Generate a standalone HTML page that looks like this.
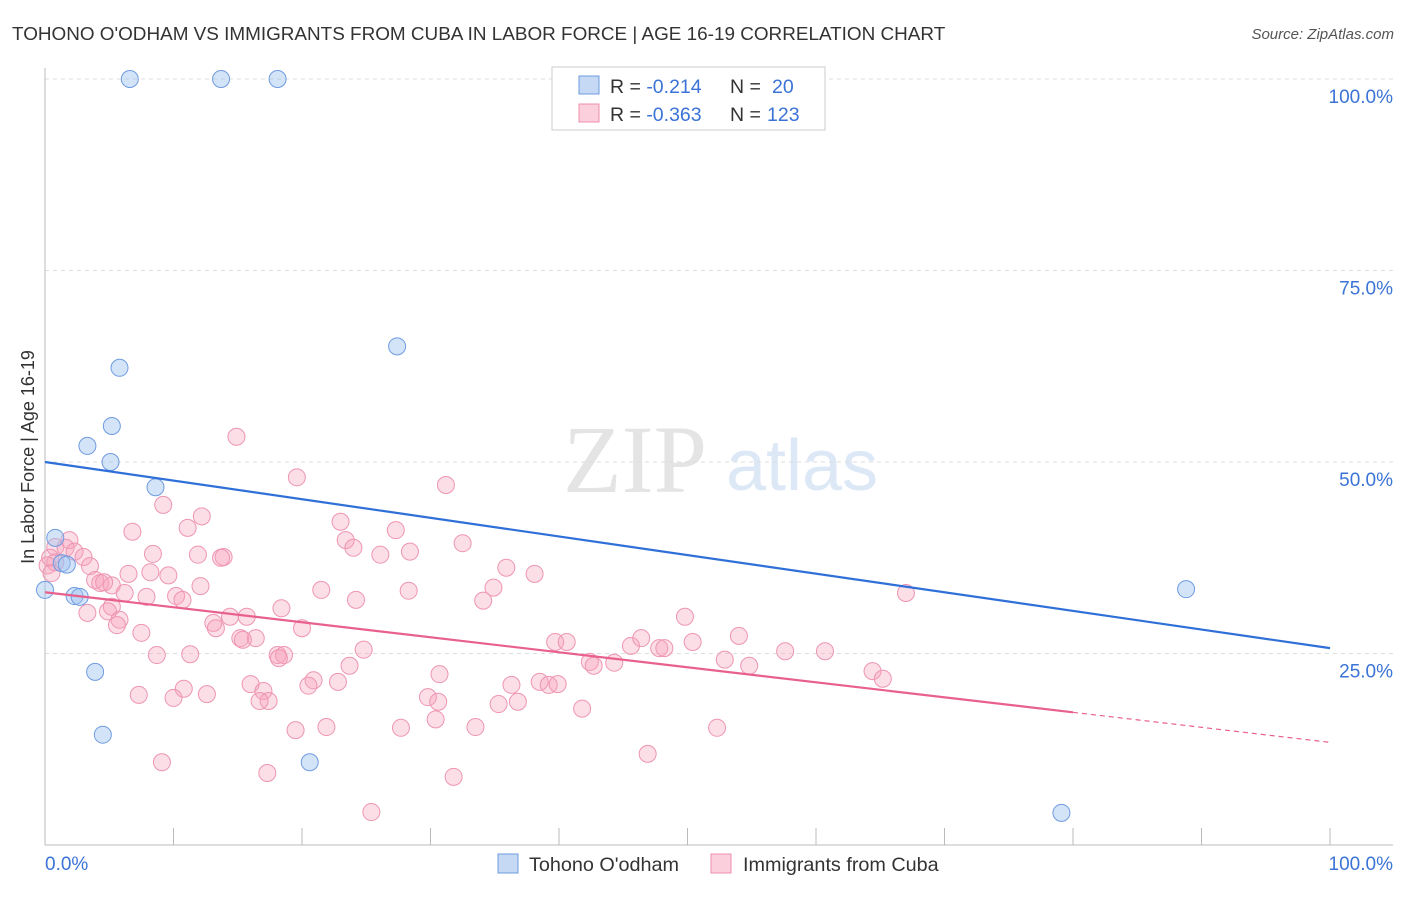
<!DOCTYPE html>
<html><head><meta charset="utf-8"><style>
body{margin:0;background:#fff;font-family:"Liberation Sans",sans-serif;}
svg text{font-family:"Liberation Sans",sans-serif;}
</style></head><body>
<svg id="chart" width="1406" height="892" xmlns="http://www.w3.org/2000/svg">
<text x="12" y="40" font-size="18.9" fill="#333">TOHONO O'ODHAM VS IMMIGRANTS FROM CUBA IN LABOR FORCE | AGE 16-19 CORRELATION CHART</text>
<text x="1394" y="39" font-size="15" fill="#555" font-style="italic" text-anchor="end">Source: ZipAtlas.com</text>
<g>
<text x="635" y="492" font-size="96" fill="#e4e4e4" text-anchor="middle" font-family="Liberation Serif" style="font-family:'Liberation Serif',serif">ZIP</text>
<text x="802" y="490" font-size="72" fill="#dde8f7" text-anchor="middle">atlas</text>
</g>
<g id="grid"></g>
<g id="axes"></g>
<g id="marks"></g>
<text transform="translate(34,457) rotate(-90)" font-size="18" fill="#333" text-anchor="middle">In Labor Force | Age 16-19</text>
<g>
<rect x="552" y="67" width="273" height="63" fill="#fff" stroke="#ccc"/>
<rect x="579" y="76" width="20" height="18" fill="#c5d9f5" stroke="#6f9be0"/>
<rect x="579" y="104" width="20" height="18" fill="#fbcfdc" stroke="#ee8fae"/>
<text x="610" y="93" font-size="19.5" fill="#333">R = <tspan fill="#3b73d6">-0.214</tspan></text>
<text x="730" y="93" font-size="19.5" fill="#333">N =</text>
<text x="772" y="93" font-size="19.5" fill="#3b73d6">20</text>
<text x="610" y="121" font-size="19.5" fill="#333">R = <tspan fill="#3b73d6">-0.363</tspan></text>
<text x="730" y="121" font-size="19.5" fill="#333">N =</text>
<text x="767" y="121" font-size="19.5" fill="#3b73d6">123</text>
</g>
<g>
<rect x="498" y="854" width="20" height="19" fill="#c5d9f5" stroke="#6f9be0"/>
<text x="529" y="871" font-size="19.8" fill="#333">Tohono O'odham</text>
<rect x="711" y="854" width="20" height="19" fill="#fbcfdc" stroke="#ee8fae"/>
<text x="743" y="871" font-size="19.8" fill="#333">Immigrants from Cuba</text>
</g>
</svg>
<script>
const yTicks=[25,50,75,100];
const yTickLabels=["25.0%","50.0%","75.0%","100.0%"];
const xTicks=[10,20,30,40,50,60,70,80,90,100];
const blueX=[6.6,13.7,18.1,27.4,5.8,5.2,3.3,5.1,8.6,0.8,1.3,1.7,0,2.3,2.7,3.9,4.5,20.6,79.1,88.8];
const blueY=[100,100,100,65.1,62.3,54.7,52.1,50.0,46.7,40.1,36.8,36.6,33.3,32.5,32.4,22.6,14.4,10.8,4.2,33.4];
const pinkX=[14.9,19.6,31.2,9.2,11.1,12.2,6.8,23.0,27.3,23.4,24.0,32.5,1.9,0.8,1.6,2.3,3.0,0.4,0.8,3.5,8.4,26.1,28.4,11.9,13.9,13.7,35.9,38.1,6.5,8.2,9.6,3.9,4.3,5.2,6.2,4.6,12.1,21.5,34.9,7.9,10.2,10.7,24.2,28.3,34.1,5.2,4.9,3.3,18.4,14.4,15.7,5.8,5.6,13.1,13.3,20.0,49.8,7.5,15.2,16.4,15.4,39.7,40.6,45.6,46.4,47.8,48.2,50.4,54.0,11.3,8.7,24.8,18.1,18.6,18.2,23.7,42.4,42.7,44.3,52.9,54.8,57.6,60.7,64.4,65.2,30.7,16.0,20.9,20.5,22.8,38.5,39.2,39.9,36.3,10.8,7.3,12.6,17.0,17.4,16.7,10.0,29.8,30.6,35.3,36.8,41.8,30.4,19.5,21.9,27.7,33.5,52.3,46.9,9.1,17.3,31.8,25.4,67.0,0.2,0.5];
const pinkY=[53.3,48.0,47.0,44.4,41.4,42.9,40.9,42.2,41.1,39.8,38.8,39.4,39.8,38.9,38.8,38.3,37.6,37.5,36.9,36.4,38.0,37.9,38.3,37.9,37.6,37.5,36.2,35.4,35.4,35.6,35.2,34.6,34.2,33.9,32.9,34.3,33.8,33.3,33.6,32.4,32.5,32.0,32.0,33.2,31.9,31.1,30.5,30.3,30.9,29.8,29.8,29.4,28.7,29.0,28.3,28.3,29.8,27.7,27.0,27.0,26.8,26.5,26.5,26.0,27.0,25.7,25.7,26.5,27.3,24.9,24.8,25.5,24.8,24.8,24.4,23.4,23.9,23.4,23.8,24.2,23.4,25.3,25.3,22.7,21.7,22.3,21.0,21.5,20.8,21.3,21.3,20.9,21.0,20.9,20.4,19.6,19.7,20.1,18.8,18.8,19.2,19.3,18.7,18.4,18.7,17.8,16.4,15.0,15.4,15.3,15.4,15.3,11.9,10.8,9.4,8.9,4.3,32.9,36.5,35.5];
const blueTrend=[50.0,25.7];
const pinkTrend=[33.0,13.4];
const pinkSolidEnd=80;

const X0=45,X1=1330,Y0=845,Y1=79;
const sx=v=>X0+(X1-X0)*v/100;
const sy=v=>Y0-(Y0-Y1)*v/100;
const NS="http://www.w3.org/2000/svg";
function mk(tag,attrs,parent){const e=document.createElementNS(NS,tag);for(const k in attrs)e.setAttribute(k,attrs[k]);parent.appendChild(e);return e;}
const grid=document.getElementById('grid'),axes=document.getElementById('axes'),marks=document.getElementById('marks');
yTicks.forEach((t,i)=>{
 const l=mk('line',{x1:X0,x2:1393,y1:sy(t),y2:sy(t),stroke:'#ddd','stroke-dasharray':'4,4'},grid);
 
 
 const tx=mk('text',{x:1393,y:sy(t)+24,'font-size':19,fill:'#3b73d6','text-anchor':'end'},axes);
 tx.textContent=yTickLabels[i];
 
 
});
let a=mk('line',{x1:X0,x2:X0,y1:68,y2:Y0,stroke:'#bbb'},axes);


a=mk('line',{x1:X0,x2:1393,y1:Y0,y2:Y0,stroke:'#bbb'},axes);


xTicks.forEach(t=>{
 const l=mk('line',{x1:sx(t),x2:sx(t),y1:828,y2:Y0,stroke:'#bbb'},axes);
 
 
});
let xl=mk('text',{x:45,y:870,'font-size':19,fill:'#3b73d6'},axes);xl.textContent='0.0%';


xl=mk('text',{x:1393,y:870,'font-size':19,fill:'#3b73d6','text-anchor':'end'},axes);xl.textContent='100.0%';


pinkX.forEach((x,i)=>{
 const c=mk('circle',{cx:sx(x),cy:sy(pinkY[i]),r:8.5,fill:'rgba(246,160,187,0.35)',stroke:'#ee95b2','stroke-width':1},marks);
 
 
});
blueX.forEach((x,i)=>{
 const c=mk('circle',{cx:sx(x),cy:sy(blueY[i]),r:8.5,fill:'rgba(160,196,240,0.45)',stroke:'#6f9be0','stroke-width':1},marks);
 
 
});
let tl=mk('line',{x1:sx(0),y1:sy(blueTrend[0]),x2:sx(100),y2:sy(blueTrend[1]),stroke:'#2f6fd8','stroke-width':2.2},marks);


const pm=pinkTrend[0]+(pinkTrend[1]-pinkTrend[0])*pinkSolidEnd/100;
tl=mk('line',{x1:sx(0),y1:sy(pinkTrend[0]),x2:sx(pinkSolidEnd),y2:sy(pm),stroke:'#e8608e','stroke-width':2.2},marks);


tl=mk('line',{x1:sx(pinkSolidEnd),y1:sy(pm),x2:sx(100),y2:sy(pinkTrend[1]),stroke:'#e8608e','stroke-width':1.2,'stroke-dasharray':'5,4'},marks);


</script>
</body></html>
